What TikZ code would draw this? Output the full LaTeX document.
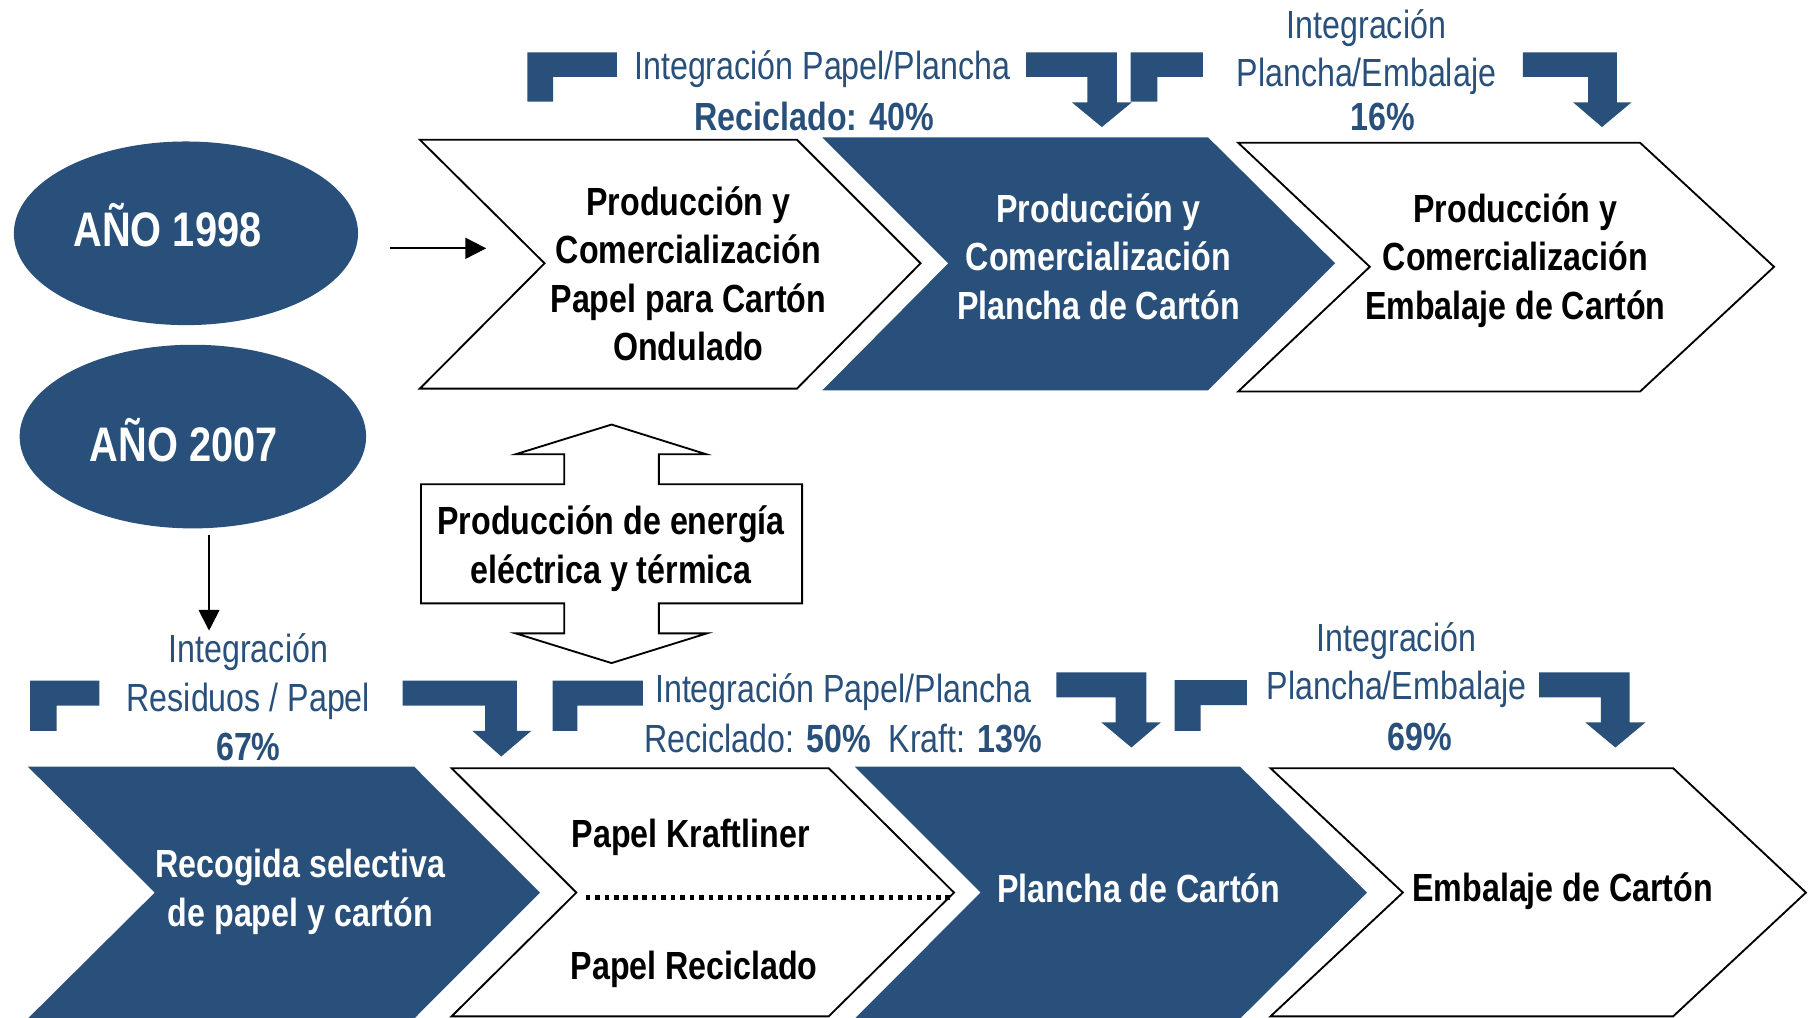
\documentclass[tikz,border=0pt]{standalone}
\usepackage{fontspec}
\setmainfont{Liberation Sans}[FakeStretch=0.82]
\usetikzlibrary{shapes.geometric,arrows.meta}
\definecolor{azul}{RGB}{40,80,122}
\begin{document}
\begin{tikzpicture}[x=0.5pt,y=-0.5pt,
  chevw/.style={draw=black,line width=0.8pt,fill=white,line join=miter},
  chevb/.style={fill=azul},
  bent/.style={fill=azul},
  txtk/.style={font=\bfseries\fontsize{17}{21}\selectfont,align=center,inner sep=0pt,text=black},
  txtw/.style={font=\bfseries\fontsize{17}{21}\selectfont,align=center,inner sep=0pt,text=white},
  lbl/.style={font=\fontsize{17}{21}\selectfont,align=center,inner sep=0pt,text=azul},
  lblb/.style={font=\bfseries\fontsize{17}{21}\selectfont,align=center,inner sep=0pt,text=azul},
  yeartxt/.style={font=\bfseries\fontsize{21}{25}\selectfont,inner sep=0pt,text=white},
  conn/.style={line width=0.8pt,-{Triangle[length=9pt,width=9pt]}}]
\useasboundingbox (0,0) rectangle (1568,881);
% ellipses
\node[ellipse,fill=azul,minimum width=149pt,minimum height=79.5pt,inner sep=0pt] (e98) at (161,202) {};
\node[yeartxt] (t98) at (145,195) {AÑO 1998};
\node[ellipse,fill=azul,minimum width=150pt,minimum height=79.5pt,inner sep=0pt] (e07) at (167,378) {};
\node[yeartxt] (t07) at (159,381) {AÑO 2007};
% arrows from years
\coordinate (a1s) at (338,215);
\coordinate (a1e) at (421,215);
\draw[conn] (a1s) -- (a1e);
\coordinate (a2s) at (181,463);
\coordinate (a2e) at (181,546);
\draw[conn] (a2s) -- (a2e);
% top chevrons
\draw[chevw] (363.5,121) -- (690,121) -- (797,228) -- (690,336.5) -- (363.5,336.5) -- (471.5,228) -- cycle;
\fill[chevb] (712,119) -- (1046,119) -- (1156,228) -- (1046,338) -- (712,338) -- (821,228) -- cycle;
\draw[chevw] (1072,123.6) -- (1420,123.6) -- (1536,231) -- (1420,339) -- (1072,339) -- (1186,231) -- cycle;
\node[txtk] (c1) at (596,237) {Producción y\\Comercialización\\Papel para Cartón\\Ondulado};
\node[txtw] (c2) at (951,222) {Producción y\\Comercialización\\Plancha de Cartón};
\node[txtk] (c3) at (1312,225.5) {Producción y\\Comercialización\\Embalaje de Cartón};
% top bent arrows
\fill[bent] (456.5,45.3) -- (534,45.3) -- (534,66.6) -- (479,66.6) -- (479,88) -- (456.5,88) -- cycle;
\fill[bent] (888.5,45.3) -- (967,45.3) -- (967,88.6) -- (980,88.6) -- (954,110) -- (928,88.6) -- (941.5,88.6) -- (941.5,66.6) -- (888.5,66.6) -- cycle;
\fill[bent] (979,45.3) -- (1041.4,45.3) -- (1041.4,66.6) -- (1002,66.6) -- (1002,88) -- (979,88) -- cycle;
\fill[bent] (1318.6,45.3) -- (1400,45.3) -- (1400,88.6) -- (1412.6,88.6) -- (1387,110) -- (1362,88.6) -- (1375,88.6) -- (1375,66.6) -- (1318.6,66.6) -- cycle;
% top labels
\node[lbl] (l1) at (712,60) {Integración Papel/Plancha};
\node[lblb] (l1p) at (705,101) {Reciclado: 40\%};
\node[lbl] (l2) at (1183,45) {Integración\\Plancha/Embalaje};
\node[lblb] (l2p) at (1197,101) {16\%};
% energy box
\draw[chevw] (364.5,419.3) -- (488.5,419.3) -- (488.5,393.3) -- (446.5,393.3) -- (529.5,367.6) -- (611.5,393.3) -- (570.5,393.3) -- (570.5,419.3) -- (694.5,419.3) -- (694.5,522.4) -- (570.5,522.4) -- (570.5,548.4) -- (612,548.4) -- (529.5,574.1) -- (446.5,548.4) -- (488.5,548.4) -- (488.5,522.4) -- (364.5,522.4) -- cycle;
\node[txtk] (en) at (529,475) {Producción de energía\\eléctrica y térmica};
% bottom bent arrows
\fill[bent] (26,589.4) -- (86,589.4) -- (86,611) -- (49,611) -- (49,632.8) -- (26,632.8) -- cycle;
\fill[bent] (348.5,589.4) -- (447.5,589.4) -- (447.5,632.8) -- (460,632.8) -- (434,655) -- (409,632.8) -- (420,632.8) -- (420,611) -- (348.5,611) -- cycle;
\fill[bent] (478.5,589.4) -- (556.5,589.4) -- (556.5,611) -- (500,611) -- (500,632.8) -- (478.5,632.8) -- cycle;
\fill[bent] (914.6,582.2) -- (992.6,582.2) -- (992.6,625.5) -- (1005,625.5) -- (979.6,647.2) -- (953.6,625.5) -- (966,625.5) -- (966,603.9) -- (914.6,603.9) -- cycle;
\fill[bent] (1017,588.9) -- (1079.6,588.9) -- (1079.6,610.5) -- (1039.6,610.5) -- (1039.6,632.8) -- (1017,632.8) -- cycle;
\fill[bent] (1332.6,582.2) -- (1411,582.2) -- (1411,625.5) -- (1424.6,625.5) -- (1398.6,647.2) -- (1372.6,625.5) -- (1386,625.5) -- (1386,603.9) -- (1332.6,603.9) -- cycle;
% bottom labels
\node[lbl] (l3) at (215,586) {Integración\\Residuos / Papel};
\node[lblb] (l3p) at (215,647) {67\%};
\node[lbl] (l4) at (730,599) {Integración Papel/Plancha};
\node[lbl] (l4p) at (730,639) {Reciclado: \textbf{50\%}\ \ Kraft: \textbf{13\%}};
\node[lbl] (l5) at (1209,576) {Integración\\Plancha/Embalaje};
\node[lblb] (l5p) at (1229,638) {69\%};
% bottom chevrons
\fill[chevb] (24,663.7) -- (358.5,663.7) -- (467.5,772.8) -- (358.5,882) -- (24,882) -- (134,772.8) -- cycle;
\draw[chevw] (391,665.1) -- (717.5,665.1) -- (826,772.8) -- (717.5,880) -- (391,880) -- (499,772.8) -- cycle;
\fill[chevb] (740,663.7) -- (1073.6,663.7) -- (1183.6,772.8) -- (1073.6,882) -- (740,882) -- (849,772.8) -- cycle;
\draw[chevw] (1100,665.1) -- (1448.6,665.1) -- (1563.6,772.8) -- (1448.6,880) -- (1100,880) -- (1214.6,772.8) -- cycle;
\coordinate (dl1) at (507,777);
\coordinate (dl2) at (826,777);
\draw[line width=2.1pt,dash pattern=on 2pt off 2.1pt] (dl1) -- (dl2);
\node[txtw] (b1) at (260,772) {Recogida selectiva\\de papel y cartón};
\node[txtk] (b2a) at (598,725) {Papel Kraftliner};
\node[txtk] (b2b) at (601,839) {Papel Reciclado};
\node[txtw] (b3) at (986,769) {Plancha de Cartón};
\node[txtk] (b4) at (1353,772) {Embalaje de Cartón};
\end{tikzpicture}
\end{document}
